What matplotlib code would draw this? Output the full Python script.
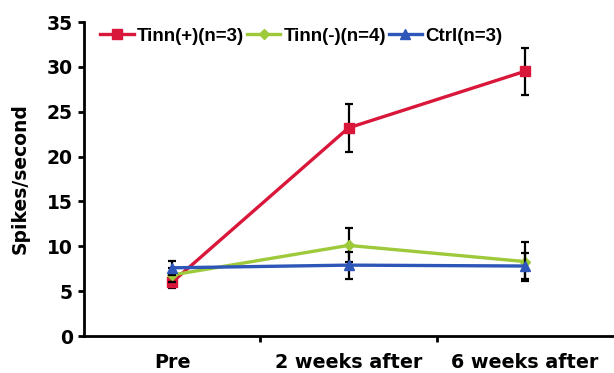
import matplotlib
matplotlib.use("Agg")
import matplotlib.pyplot as plt
from matplotlib.lines import Line2D
import numpy as np

plt.rcParams['font.family'] = ['DejaVu Sans']
plt.rcParams['font.weight'] = 'bold'

categories = ["Pre", "2 weeks after", "6 weeks after"]
tinn_pos = [6.0, 23.2, 29.5]
tinn_pos_err = [0.7, 2.7, 2.6]
tinn_neg = [6.8, 10.1, 8.3]
tinn_neg_err = [0.8, 1.9, 2.2]
ctrl = [7.6, 7.9, 7.8]
ctrl_err = [0.8, 1.5, 1.5]

fig = plt.figure(figsize=(6.14, 3.73), dpi=100)
ax = fig.add_axes([84/614, 37/373, 529/614, 314/373])

x = np.arange(len(categories))
series = [
    (tinn_pos, tinn_pos_err, '#D8173A', 's', 7.5, 'Tinn(+)(n=3)'),
    (tinn_neg, tinn_neg_err, '#9DC93B', 'D', 5, 'Tinn(-)(n=4)'),
    (ctrl, ctrl_err, '#2E55B8', '^', 7, 'Ctrl(n=3)'),
]
handles = []
for i, (vals, errs, col, mk, ms, lab) in enumerate(series):
    ax.errorbar(x, vals, yerr=errs, color=col, marker=mk, ms=ms,
                lw=2.4, ecolor='black', elinewidth=1.6, capsize=3, capthick=1.6,
                zorder=3 + i)
    handles.append(Line2D([], [], color=col, marker=mk, ms=ms, lw=2.4, label=lab))

ax.set_xlim(-0.5, 2.5)
ax.set_ylim(0, 35)
ax.set_yticks(np.arange(0, 36, 5))
ax.set_xticks(x)
ax.set_xticklabels(categories, fontsize=13.8, fontweight='bold')
ax.set_xticks([0.5, 1.5], minor=True)
ax.tick_params(axis='x', which='major', length=0, pad=12)
ax.tick_params(axis='x', which='minor', length=4, width=2, direction='out')
ax.tick_params(axis='y', labelsize=13.5, width=2, length=4, direction='out', pad=4)
for lab in ax.get_yticklabels():
    lab.set_fontweight('bold')
ax.set_ylabel('Spikes/second', fontsize=13.5, fontweight='bold', labelpad=12)
ax.spines['top'].set_visible(False)
ax.spines['right'].set_visible(False)
ax.spines['left'].set_linewidth(2)
ax.spines['bottom'].set_linewidth(2)

leg = ax.legend(handles=handles, loc='upper left', ncol=3, frameon=False,
                prop={'family': 'Liberation Sans', 'weight': 'bold', 'size': 13.5},
                handlelength=1.8, handletextpad=0.15, columnspacing=0.15,
                borderaxespad=0.0, borderpad=0.3, bbox_to_anchor=(0.02, 1.0))

fig.savefig('out.png', dpi=100)
